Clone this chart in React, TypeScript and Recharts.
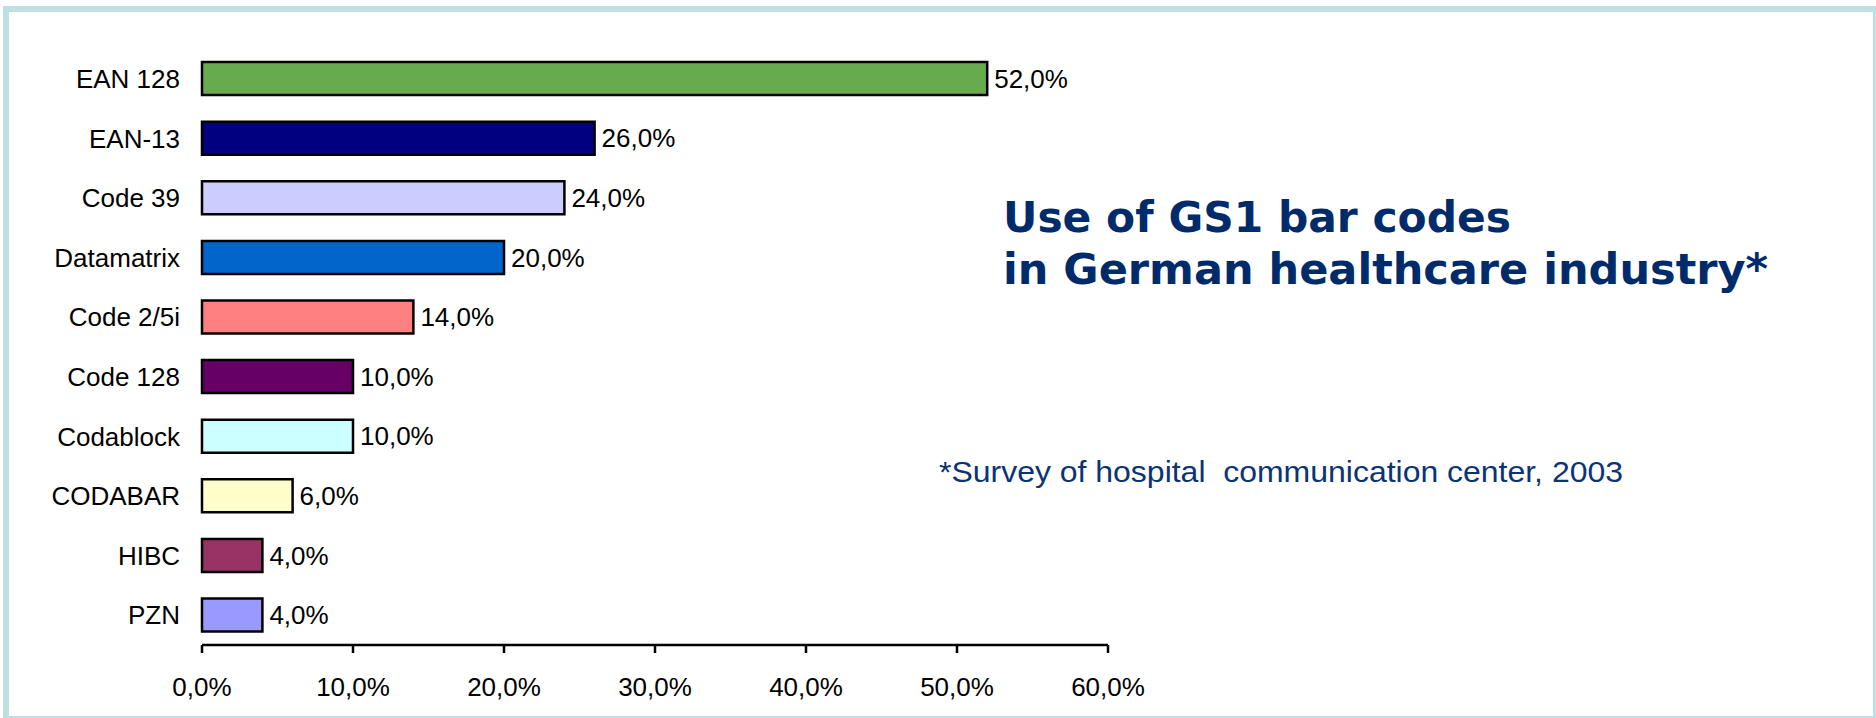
import React from 'react';
import { BarChart, Bar, XAxis, YAxis, Cell, LabelList } from 'recharts';

const categories = ['EAN 128', 'EAN-13', 'Code 39', 'Datamatrix', 'Code 2/5i', 'Code 128', 'Codablock', 'CODABAR', 'HIBC', 'PZN'];
const shares = [52, 26, 24, 20, 14, 10, 10, 6, 4, 4];
const xTicks = [0, 10, 20, 30, 40, 50, 60];
const rowEdges = [0, 1, 2, 3, 4, 5, 6, 7, 8, 9, 10];

const barColors = ['#66AC4E', '#000080', '#CCCCFF', '#0066CC', '#FF8080', '#660066', '#CCFFFF', '#FFFFCC', '#993366', '#9999FF'];

const titleLines = ['Use of GS1 bar codes', 'in German healthcare industry*'];
const footnote = '*Survey of hospital  communication center, 2003';

const data = categories.map((name, i) => ({ name, value: shares[i] }));

const pct = (v: number) => `${v.toFixed(1).replace('.', ',')}%`;
const font = "'Liberation Sans', Arial, sans-serif";
const titleFont = "'DejaVu Sans', Verdana, sans-serif";

export default function App() {
  return (
    <div style={{ position: 'absolute', left: 0, top: 0, width: 1876, height: 718, overflow: 'hidden', background: '#fff' }}>
      <div
        style={{
          position: 'absolute',
          left: 3,
          top: 6,
          width: 1876,
          height: 716,
          border: '6px solid #BDE0E2',
          boxSizing: 'border-box',
        }}
      />
      <div style={{ position: 'absolute', left: 0, top: 0 }}>
        <BarChart
          width={1876}
          height={718}
          data={data}
          layout="vertical"
          barCategoryGap="22%"
          margin={{ top: 49, right: 768, bottom: 0, left: 0 }}
        >
          <XAxis
            type="number"
            domain={[0, 60]}
            ticks={xTicks}
            tickFormatter={pct}
            height={73}
            axisLine={{ stroke: '#000', strokeWidth: 2.5 }}
            tickLine={{ stroke: '#000', strokeWidth: 2.5 }}
            tickSize={8}
            tickMargin={25}
            tick={{ fontSize: 26, fill: '#000', fontFamily: font }}
          />
          <YAxis
            yAxisId="cat"
            type="category"
            dataKey="name"
            width={202}
            interval={0}
            axisLine={false}
            tickLine={false}
            tickSize={0}
            tickMargin={22}
            tick={{ fontSize: 26, fill: '#000', fontFamily: font }}
          />
          <YAxis
            yAxisId="rows"
            type="number"
            domain={[0, 10]}
            ticks={rowEdges}
            width={0}
            tick={false}
            tickSize={8}
            axisLine={{ stroke: '#000', strokeWidth: 2.5 }}
            tickLine={{ stroke: '#000', strokeWidth: 2.5 }}
          />
          <Bar dataKey="value" yAxisId="cat" stroke="#000" strokeWidth={2.5} isAnimationActive={false}>
            {data.map((d, i) => (
              <Cell key={d.name} fill={barColors[i]} />
            ))}
            <LabelList
              dataKey="value"
              position="right"
              offset={7}
              formatter={(v: any) => pct(Number(v))}
              style={{ fontSize: 26, fill: '#000', fontFamily: font }}
            />
          </Bar>
        </BarChart>
      </div>
      <svg width={1876} height={718} style={{ position: 'absolute', left: 0, top: 0, pointerEvents: 'none' }}>
        <text x={1003} y={232} fontSize={42} fontWeight="bold" fontFamily={titleFont} fill="#002B6B"
          textLength={508} lengthAdjust="spacingAndGlyphs">
          {titleLines[0]}
        </text>
        <text x={1003} y={284} fontSize={42} fontWeight="bold" fontFamily={titleFont} fill="#002B6B"
          textLength={765} lengthAdjust="spacingAndGlyphs">
          {titleLines[1]}
        </text>
        <text x={939} y={482} fontSize={29} fontFamily={font} fill="#0B3376" style={{ whiteSpace: 'pre' }}
          textLength={684} lengthAdjust="spacingAndGlyphs">
          {footnote}
        </text>
      </svg>
    </div>
  );
}
